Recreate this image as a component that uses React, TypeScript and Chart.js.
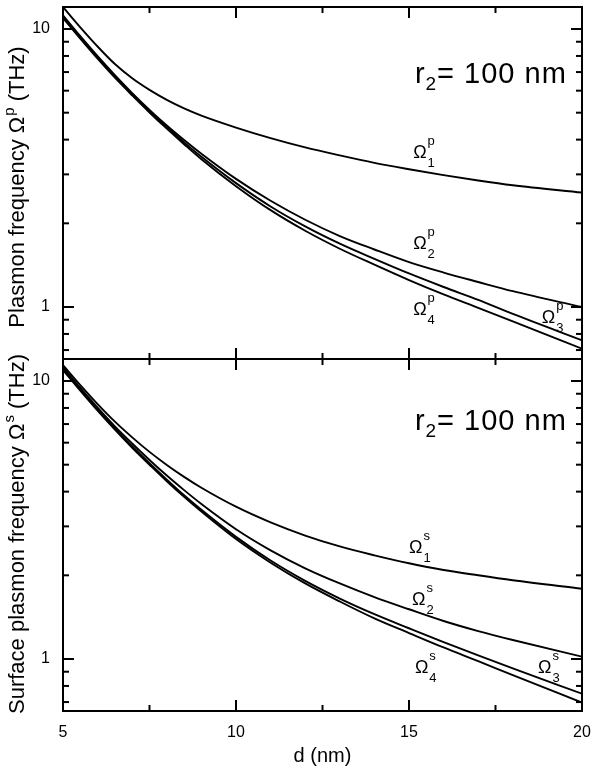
import React, { useEffect, useRef } from 'react';
import { Chart, registerables } from 'chart.js';

Chart.register(...registerables);

// ---- data ----
const dValues = [5, 5.5, 6, 6.5, 7, 7.5, 8, 8.5, 9, 10, 11, 12, 13, 14, 15, 16, 17, 18, 20];

// upper panel: plasmon frequencies Omega^p (THz)
const omegaP1 = [12.0, 10.14, 8.65, 7.48, 6.65, 6.04, 5.56, 5.18, 4.88, 4.42, 4.05, 3.75, 3.51, 3.3, 3.13, 2.98, 2.85, 2.74, 2.58];
const omegaP2 = [11.2, 9.42, 7.98, 6.82, 5.88, 5.12, 4.5, 3.99, 3.56, 2.89, 2.41, 2.06, 1.8, 1.61, 1.45, 1.33, 1.23, 1.14, 1.0];
const omegaP3 = [11.1, 9.33, 7.91, 6.76, 5.83, 5.07, 4.44, 3.91, 3.47, 2.79, 2.3, 1.95, 1.69, 1.49, 1.32, 1.18, 1.06, 0.944, 0.759];
const omegaP4 = [10.96, 9.23, 7.82, 6.68, 5.77, 5.01, 4.38, 3.85, 3.4, 2.72, 2.23, 1.88, 1.62, 1.42, 1.25, 1.11, 0.993, 0.887, 0.708];

// lower panel: surface plasmon frequencies Omega^s (THz)
const omegaS1 = [11.4, 9.66, 8.26, 7.14, 6.27, 5.56, 4.99, 4.52, 4.13, 3.53, 3.1, 2.78, 2.54, 2.36, 2.21, 2.09, 2.0, 1.92, 1.79];
const omegaS2 = [11.2, 9.44, 8.02, 6.87, 5.96, 5.2, 4.57, 4.05, 3.61, 2.93, 2.46, 2.12, 1.87, 1.67, 1.51, 1.37, 1.26, 1.17, 1.02];
const omegaS3 = [11.1, 9.33, 7.91, 6.76, 5.83, 5.06, 4.42, 3.88, 3.44, 2.75, 2.26, 1.91, 1.65, 1.45, 1.29, 1.15, 1.03, 0.925, 0.75];
const omegaS4 = [10.96, 9.23, 7.82, 6.68, 5.75, 5.0, 4.36, 3.83, 3.39, 2.7, 2.22, 1.87, 1.61, 1.4, 1.24, 1.1, 0.982, 0.875, 0.697];

// axes
const xMin = 5;
const xMax = 20;
const xMajorTicks = [5, 10, 15, 20];
const xMinorTicks = [7.5, 12.5, 17.5];
const yMin = 0.65;
const yMax = 12;
const yMajorTicks = [1, 10];
const yMinorTicks = [0.7, 0.8, 0.9, 2, 3, 4, 5, 6, 7, 8, 9];
const yTickLabels = ['1', '10'];

// texts
const topTitle = { main: 'Plasmon frequency \u03A9', sup: 'p', tail: ' (THz)' };
const bottomTitle = { main: 'Surface plasmon frequency \u03A9', sup: 's', tail: ' (THz)' };
const xTitle = 'd (nm)';
const radiusLabel = { r: 'r', sub: '2', rest: '= 100 nm' };

// curve labels anchored in data coordinates (d, value)
const topCurveLabels = [
  { sub: '1', sup: 'p', d: 15.12, v: 3.44 },
  { sub: '2', sup: 'p', d: 15.12, v: 1.61 },
  { sub: '4', sup: 'p', d: 15.12, v: 0.938 },
  { sub: '3', sup: 'p', d: 18.84, v: 0.878 },
];
const bottomCurveLabels = [
  { sub: '1', sup: 's', d: 15.0, v: 2.4 },
  { sub: '2', sup: 's', d: 15.09, v: 1.56 },
  { sub: '4', sup: 's', d: 15.17, v: 0.888 },
  { sub: '3', sup: 's', d: 18.73, v: 0.888 },
];
const radiusAnchorTop = { d: 15.17, v: 6.41 };
const radiusAnchorBottom = { d: 15.17, v: 6.65 };

const FONT = '"Liberation Sans", Arial, sans-serif';

function series(values: number[]) {
  return values.map((v, i) => ({ x: dValues[i], y: v }));
}

function drawOmega(ctx: CanvasRenderingContext2D, x: number, y: number, sup: string, sub: string) {
  ctx.font = `18px ${FONT}`;
  ctx.textAlign = 'left';
  ctx.textBaseline = 'alphabetic';
  ctx.fillText('\u03A9', x, y);
  const w = ctx.measureText('\u03A9').width;
  ctx.font = `13px ${FONT}`;
  ctx.fillText(sup, x + w + 1, y - 13);
  ctx.fillText(sub, x + w + 1, y + 9);
}

function drawRotatedTitle(ctx: CanvasRenderingContext2D, cx: number, cy: number, t: { main: string; sup: string; tail: string }) {
  const big = `22px ${FONT}`;
  const small = `15px ${FONT}`;
  ctx.save();
  ctx.translate(cx, cy);
  ctx.rotate(-Math.PI / 2);
  ctx.textAlign = 'left';
  ctx.textBaseline = 'alphabetic';
  ctx.font = big;
  const w1 = ctx.measureText(t.main).width;
  const w3 = ctx.measureText(t.tail).width;
  ctx.font = small;
  const w2 = ctx.measureText(t.sup).width + 1;
  const total = w1 + w2 + w3;
  let x = -total / 2;
  ctx.font = big;
  ctx.fillText(t.main, x, 0);
  x += w1;
  ctx.font = small;
  ctx.fillText(t.sup, x + 1, -10);
  x += w2;
  ctx.font = big;
  ctx.fillText(t.tail, x, 0);
  ctx.restore();
}

function drawRadius(ctx: CanvasRenderingContext2D, x: number, y: number) {
  ctx.save();
  ctx.textAlign = 'left';
  ctx.textBaseline = 'alphabetic';
  (ctx as any).letterSpacing = '1px';
  ctx.font = `29px ${FONT}`;
  ctx.fillText(radiusLabel.r, x, y);
  let cx = x + ctx.measureText(radiusLabel.r).width;
  ctx.font = `19px ${FONT}`;
  ctx.fillText(radiusLabel.sub, cx, y + 7);
  cx += ctx.measureText(radiusLabel.sub).width;
  ctx.font = `29px ${FONT}`;
  ctx.fillText(radiusLabel.rest, cx, y);
  ctx.restore();
}

const framePlugin = {
  id: 'framePlugin',
  afterDraw(chart: any) {
    const ctx: CanvasRenderingContext2D = chart.ctx;
    const xs = chart.scales.x;
    const panels = [chart.scales.yTop, chart.scales.yBot];
    const { left, right } = chart.chartArea;
    ctx.save();
    ctx.strokeStyle = '#000';
    ctx.fillStyle = '#000';
    ctx.lineWidth = 2;
    ctx.lineCap = 'butt';
    const line = (x1: number, y1: number, x2: number, y2: number) => {
      ctx.beginPath();
      ctx.moveTo(x1, y1);
      ctx.lineTo(x2, y2);
      ctx.stroke();
    };
    for (const ys of panels) {
      const top = ys.top;
      const bottom = ys.bottom;
      ctx.strokeRect(left, top, right - left, bottom - top);
      for (const v of yMajorTicks) {
        const py = ys.getPixelForValue(v);
        line(left, py, left + 11, py);
        line(right, py, right - 11, py);
      }
      for (const v of yMinorTicks) {
        const py = ys.getPixelForValue(v);
        line(left, py, left + 6, py);
        line(right, py, right - 6, py);
      }
      for (const v of xMajorTicks) {
        const px = xs.getPixelForValue(v);
        line(px, top, px, top + 11);
        line(px, bottom, px, bottom - 11);
      }
      for (const v of xMinorTicks) {
        const px = xs.getPixelForValue(v);
        line(px, top, px, top + 6);
        line(px, bottom, px, bottom - 6);
      }
    }
    const yT = chart.scales.yTop;
    const yB = chart.scales.yBot;
    for (const l of topCurveLabels) {
      drawOmega(ctx, xs.getPixelForValue(l.d), yT.getPixelForValue(l.v), l.sup, l.sub);
    }
    for (const l of bottomCurveLabels) {
      drawOmega(ctx, xs.getPixelForValue(l.d), yB.getPixelForValue(l.v), l.sup, l.sub);
    }
    drawRadius(ctx, xs.getPixelForValue(radiusAnchorTop.d), yT.getPixelForValue(radiusAnchorTop.v));
    drawRadius(ctx, xs.getPixelForValue(radiusAnchorBottom.d), yB.getPixelForValue(radiusAnchorBottom.v));
    drawRotatedTitle(ctx, 24, (yT.top + yT.bottom) / 2 + 4, topTitle);
    drawRotatedTitle(ctx, 24, (yB.top + yB.bottom) / 2 - 1, bottomTitle);
    ctx.font = `20px ${FONT}`;
    ctx.textAlign = 'center';
    ctx.textBaseline = 'alphabetic';
    ctx.fillText(xTitle, (left + right) / 2, yB.bottom + 51);
    ctx.restore();
  },
};

function yScale(): any {
  return {
    type: 'logarithmic',
    position: 'left',
    stack: 'panels',
    stackWeight: 1,
    min: yMin,
    max: yMax,
    grid: { display: false, drawTicks: false },
    border: { display: false },
    ticks: {
      autoSkip: false,
      padding: 13,
      color: '#000',
      font: { family: FONT, size: 16 },
      callback: (value: any) => {
        const v = Number(value);
        for (let i = 0; i < yMajorTicks.length; i++) {
          if (Math.abs(v - yMajorTicks[i]) < 1e-9) return yTickLabels[i];
        }
        return '';
      },
    },
    afterFit: (s: any) => {
      s.width = 63;
      s.paddingTop = 0;
      s.paddingBottom = 0;
      s.paddingLeft = 0;
      s.paddingRight = 0;
    },
  };
}

export default function App() {
  const ref = useRef<HTMLCanvasElement>(null);
  useEffect(() => {
    if (!ref.current) return;
    const lineStyle = {
      borderColor: '#000',
      borderWidth: 1.9,
      pointRadius: 0,
      fill: false,
      cubicInterpolationMode: 'monotone' as const,
      xAxisID: 'x',
    };
    const chart = new Chart(ref.current, {
      type: 'line',
      data: {
        datasets: [
          { ...lineStyle, label: 'Ωp1', data: series(omegaP1), yAxisID: 'yTop' },
          { ...lineStyle, label: 'Ωp2', data: series(omegaP2), yAxisID: 'yTop' },
          { ...lineStyle, label: 'Ωp3', data: series(omegaP3), yAxisID: 'yTop' },
          { ...lineStyle, label: 'Ωp4', data: series(omegaP4), yAxisID: 'yTop' },
          { ...lineStyle, label: 'Ωs1', data: series(omegaS1), yAxisID: 'yBot' },
          { ...lineStyle, label: 'Ωs2', data: series(omegaS2), yAxisID: 'yBot' },
          { ...lineStyle, label: 'Ωs3', data: series(omegaS3), yAxisID: 'yBot' },
          { ...lineStyle, label: 'Ωs4', data: series(omegaS4), yAxisID: 'yBot' },
        ] as any,
      },
      options: {
        animation: false,
        responsive: false,
        maintainAspectRatio: false,
        layout: { padding: { left: 0, right: 18, top: 7, bottom: 0 } },
        plugins: { legend: { display: false }, tooltip: { enabled: false }, title: { display: false } },
        scales: {
          x: {
            type: 'linear',
            position: 'bottom',
            min: xMin,
            max: xMax,
            grid: { display: false, drawTicks: false },
            border: { display: false },
            ticks: {
              stepSize: 5,
              autoSkip: false,
              maxRotation: 0,
              padding: 12,
              color: '#000',
              font: { family: FONT, size: 16 },
            },
            afterFit: (s: any) => {
              s.height = 63;
              s.paddingTop = 0;
              s.paddingBottom = 0;
              s.paddingLeft = 0;
              s.paddingRight = 0;
            },
          },
          yBot: yScale(),
          yTop: yScale(),
        } as any,
      },
      plugins: [framePlugin],
    });
    return () => chart.destroy();
  }, []);
  return (
    <div style={{ position: 'fixed', left: 0, top: 0, width: 600, height: 774, background: '#fff' }}>
      <canvas ref={ref} width={600} height={774} style={{ display: 'block' }} />
    </div>
  );
}
